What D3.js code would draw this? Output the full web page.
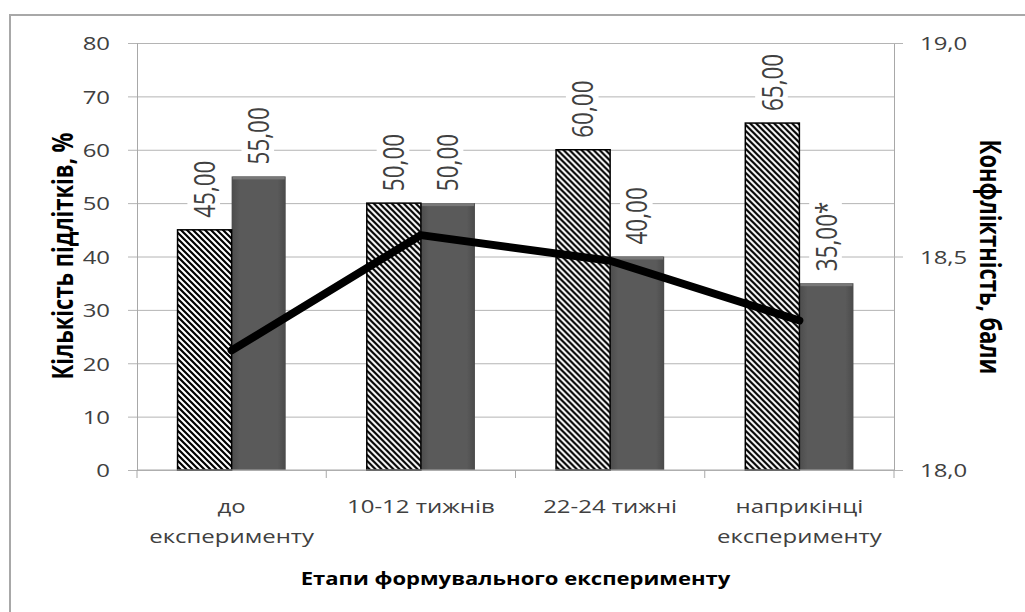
<!DOCTYPE html>
<html>
<head>
<meta charset="utf-8">
<script src="https://cdn.jsdelivr.net/npm/d3@7"></script>
<style>
  body { margin: 0; background: #fff; }
  svg { display: block; }
  text { font-family: "Open Sans", "Noto Sans", sans-serif; }
</style>
</head>
<body>
<svg id="chart" width="1025" height="612"></svg>
<script>
// Stages of the formative experiment
const categories = ["до експерименту", "10-12 тижнів", "22-24 тижні", "наприкінці експерименту"];
const categoryLines = [["до", "експерименту"], ["10-12 тижнів"], ["22-24 тижні"], ["наприкінці", "експерименту"]];

// Share of teenagers, % (two groups of bars)
const hatchedValues = [45, 50, 60, 65];
const solidValues = [55, 50, 40, 35];
const solidMarks = ["", "", "", "*"];

// Conflict level, points (line on the secondary axis)
const conflictScores = [18.28, 18.55, 18.49, 18.35];

const leftTicks = [0, 10, 20, 30, 40, 50, 60, 70, 80];
const rightTicks = [18.0, 18.5, 19.0];

const SX = 1.26; // horizontal stretch applied to all text
const comma = (v, p) => d3.format("." + p + "f")(v).replace(".", ",");

const svg = d3.select("#chart");
const plot = { left: 137, right: 894, top: 43, bottom: 470 };

// chart frame
svg.append("path")
  .attr("d", "M10,640 V15 H1040")
  .attr("fill", "none")
  .attr("stroke", "#a8a8a8")
  .attr("stroke-width", 2);

const defs = svg.append("defs");
const hatch = defs.append("pattern")
  .attr("id", "hatch")
  .attr("patternUnits", "userSpaceOnUse")
  .attr("width", 6).attr("height", 6);
hatch.append("rect").attr("width", 6).attr("height", 6).attr("fill", "#fff");
hatch.append("path")
  .attr("d", "M0,0 L6,6 M-3,3 L3,9 M3,-3 L9,3")
  .attr("stroke", "#000").attr("stroke-width", 2.2);

const grad = defs.append("linearGradient").attr("id", "solidFill")
  .attr("x1", "0").attr("x2", "1").attr("y1", "0").attr("y2", "0");
grad.append("stop").attr("offset", "0").attr("stop-color", "#4c4c4c");
grad.append("stop").attr("offset", "0.15").attr("stop-color", "#5a5a5a");
grad.append("stop").attr("offset", "0.85").attr("stop-color", "#5a5a5a");
grad.append("stop").attr("offset", "1").attr("stop-color", "#4a4a4a");

const x0 = d3.scaleBand().domain(categories).range([plot.left, plot.right]).paddingInner(0).paddingOuter(0);
const w = x0.bandwidth() / 3.5;
const x1 = d3.scaleBand().domain(["hatched", "solid"]).range([0.75 * w, 2.75 * w]).padding(0);
const y = d3.scaleLinear().domain([0, 80]).range([plot.bottom, plot.top]);
const y2 = d3.scaleLinear().domain([18, 19]).range([plot.bottom, plot.top]);

// horizontal gridlines
const grid = svg.append("g").attr("transform", `translate(${plot.left},0)`)
  .call(d3.axisLeft(y).tickValues(leftTicks).tickSize(-(plot.right - plot.left)).tickFormat(""));
grid.select(".domain").remove();
grid.selectAll("line").attr("stroke", "#b4b4b4").attr("stroke-width", 1);

// left axis
const axL = svg.append("g").attr("transform", `translate(${plot.left},0)`)
  .call(d3.axisLeft(y).tickValues(leftTicks).tickSize(9).tickPadding(0).tickFormat(d3.format("d")));
axL.select(".domain").attr("stroke", "#a8a8a8");
axL.selectAll("line").attr("stroke", "#b4b4b4");
axL.selectAll("text")
  .attr("x", -27 / SX).attr("dy", "0.36em")
  .attr("transform", `scale(${SX},1)`)
  .attr("fill", "#404040").style("font-size", "19px");

// right axis
const axR = svg.append("g").attr("transform", `translate(${plot.right},0)`)
  .call(d3.axisRight(y2).tickValues(rightTicks).tickSize(9).tickPadding(0).tickFormat(d => comma(d, 1)));
axR.select(".domain").attr("stroke", "#a8a8a8");
axR.selectAll("line").attr("stroke", "#b4b4b4");
axR.selectAll("text")
  .attr("x", 26 / SX).attr("dy", "0.36em")
  .attr("transform", `scale(${SX},1)`)
  .attr("fill", "#404040").style("font-size", "19px");

// bars
const groups = svg.append("g").selectAll("g").data(categories).join("g")
  .attr("transform", d => `translate(${x0(d)},0)`);

groups.append("rect")
  .attr("x", x1("solid")).attr("width", x1.bandwidth())
  .attr("y", (d, i) => y(solidValues[i]))
  .attr("height", (d, i) => y(0) - y(solidValues[i]))
  .attr("fill", "url(#solidFill)");
groups.append("rect")
  .attr("x", x1("solid") + 1).attr("width", x1.bandwidth() - 2)
  .attr("y", (d, i) => y(solidValues[i]))
  .attr("height", 3)
  .attr("fill", "#787878");

groups.append("rect")
  .attr("x", x1("hatched")).attr("width", x1.bandwidth())
  .attr("y", (d, i) => y(hatchedValues[i]))
  .attr("height", (d, i) => y(0) - y(hatchedValues[i]))
  .attr("fill", "url(#hatch)")
  .attr("stroke", "#000").attr("stroke-width", 1.5);

// category axis
svg.append("line")
  .attr("x1", plot.left).attr("x2", plot.right)
  .attr("y1", y(0)).attr("y2", y(0))
  .attr("stroke", "#a8a8a8");
const edges = categories.map(c => x0(c)).concat([plot.right]);
svg.append("g").selectAll("line").data(edges).join("line")
  .attr("x1", d => d).attr("x2", d => d)
  .attr("y1", y(0)).attr("y2", y(0) + 8)
  .attr("stroke", "#a8a8a8");

const catLabels = svg.append("g").selectAll("text").data(categories).join("text")
  .attr("transform", d => `translate(${x0(d) + x0.bandwidth() / 2},513) scale(${SX},1)`)
  .attr("text-anchor", "middle")
  .attr("fill", "#404040").style("font-size", "19px");
catLabels.selectAll("tspan").data((d, i) => categoryLines[i]).join("tspan")
  .attr("x", 0).attr("dy", (d, i) => i === 0 ? 0 : 30)
  .text(d => d);

// conflict line
const line = d3.line()
  .x((d, i) => x0(categories[i]) + x0.bandwidth() / 2)
  .y(d => y2(d));
svg.append("path")
  .datum(conflictScores)
  .attr("d", line)
  .attr("fill", "none")
  .attr("stroke", "#000")
  .attr("stroke-width", 8)
  .attr("stroke-linecap", "round")
  .attr("stroke-linejoin", "round");

// value labels
function addLabels(values, key, marks) {
  const lab = svg.append("g").selectAll("g").data(categories).join("g")
    .attr("transform", (d, i) =>
      `translate(${x0(d) + x1(key) + x1.bandwidth() / 2},${y(values[i]) - 12}) scale(${SX},1) rotate(-90)`);
  const bg = lab.append("rect").attr("fill", "#fff");
  const t = lab.append("text")
    .attr("x", 0).attr("dy", "0.36em")
    .attr("fill", "#404040").style("font-size", "22.5px")
    .text((d, i) => comma(values[i], 2) + (marks ? marks[i] : ""));
  t.each(function () {
    const b = this.getBBox();
    d3.select(this.previousSibling)
      .attr("x", b.x - 2).attr("y", b.y + 2)
      .attr("width", b.width + 4).attr("height", b.height - 4);
  });
}
addLabels(hatchedValues, "hatched", null);
addLabels(solidValues, "solid", solidMarks);

// axis titles
svg.append("text")
  .attr("transform", `translate(${(plot.left + plot.right) / 2},585) scale(${SX},1)`)
  .attr("text-anchor", "middle")
  .style("font-size", "17.5px").style("font-weight", "bold")
  .attr("fill", "#000")
  .text("Етапи формувального експерименту");

svg.append("text")
  .attr("transform", `translate(73,256) scale(${SX},1) rotate(-90)`)
  .attr("text-anchor", "middle")
  .style("font-size", "22px").style("font-weight", "bold")
  .attr("fill", "#000")
  .text("Кількість підлітків, %");

svg.append("text")
  .attr("transform", `translate(980,257) scale(${SX},1) rotate(90)`)
  .attr("text-anchor", "middle")
  .style("font-size", "22px").style("font-weight", "bold")
  .attr("fill", "#000")
  .text("Конфліктність, бали");
</script>
</body>
</html>
